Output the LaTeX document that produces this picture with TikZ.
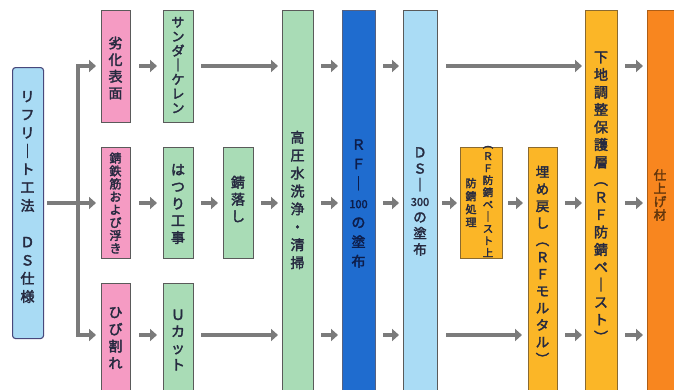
\documentclass[tikz,border=0pt]{standalone}
\usepackage{fontspec}
\usetikzlibrary{arrows.meta}
\newfontfamily\jp{Noto Sans CJK JP}[FakeBold=2.5]
\definecolor{lblue}{HTML}{A9DBF4}
\definecolor{pinkc}{HTML}{F59BC3}
\definecolor{greenc}{HTML}{A9DCB6}
\definecolor{rfblue}{HTML}{1F6CCF}
\definecolor{dsblue}{HTML}{AADCF5}
\definecolor{yelc}{HTML}{FBB627}
\definecolor{orngc}{HTML}{F8861F}
\definecolor{boxline}{HTML}{5A5A5A}
\definecolor{yelline}{HTML}{8A6A30}
\definecolor{arrgray}{HTML}{7B7B7B}
\definecolor{txt}{HTML}{262A40}
\definecolor{navy}{HTML}{0D1D4A}
\begin{document}
\begin{tikzpicture}[x=1pt,y=-1pt,
  box/.style={draw=boxline, line width=1.1pt, inner sep=0pt, anchor=north west},
  ybox/.style={box, draw=yelline, fill=yelc},
  vt/.style={align=center, inner sep=0pt, text=txt},
  arr/.style={draw=arrgray, line width=4.5pt, -{Triangle[length=7pt,width=12pt]}, shorten <=7pt, shorten >=5pt},
]
\clip (0,0) rectangle (674,389);
\fill[white] (0,0) rectangle (674,389);
% rows
\coordinate (rA) at (0,66);
\coordinate (rB) at (0,203);
\coordinate (rC) at (0,335);
\coordinate (j) at (78,0);
% boxes
\node[box, fill=lblue, draw=boxline!80!blue, rounded corners=3pt, minimum width=31pt, minimum height=271pt] (L) at (12,67) {};
\node[box, fill=pinkc, minimum width=29pt, minimum height=112pt] (p1) at (101,10) {};
\node[box, fill=pinkc, minimum width=29pt, minimum height=111pt] (p2) at (101,147) {};
\node[box, fill=pinkc, minimum width=29pt, minimum height=120pt] (p3) at (101,283) {};
\node[box, fill=greenc, minimum width=30pt, minimum height=112pt] (g1) at (163,10) {};
\node[box, fill=greenc, minimum width=30pt, minimum height=111pt] (g2) at (163,147) {};
\node[box, fill=greenc, minimum width=30pt, minimum height=120pt] (g3) at (163,283) {};
\node[box, fill=greenc, minimum width=30pt, minimum height=111pt] (g4) at (223,147) {};
\node[box, fill=greenc, minimum width=31pt, minimum height=400pt] (H) at (282,10) {};
\node[box, fill=rfblue, draw=navy!70, minimum width=33pt, minimum height=400pt] (RF) at (342,10) {};
\node[box, fill=dsblue, minimum width=34pt, minimum height=400pt] (DS) at (403,10) {};
\node[ybox, minimum width=42pt, minimum height=111pt] (Y1) at (460,147) {};
\node[ybox, minimum width=29pt, minimum height=260pt] (Y2) at (528,147) {};
\node[ybox, minimum width=32pt, minimum height=400pt] (Y3) at (585,10) {};
\node[box, fill=orngc, draw=orngc!70!black, minimum width=50pt, minimum height=400pt] (O) at (647,10) {};
% texts
\node[vt, font=\jp\fontsize{14}{18.2}\selectfont] (tL) at (27.5,197) {リ\\フ\\リ\\｜\\ト\\工\\法\\　\\Ｄ\\Ｓ\\仕\\様};
\node[vt, font=\jp\fontsize{14}{16.7}\selectfont] (tp1) at (115.5,68) {劣\\化\\表\\面};
\node[vt, font=\jp\fontsize{12}{12.9}\selectfont] (tp2) at (115.5,203) {錆\\鉄\\筋\\お\\よ\\び\\浮\\き};
\node[vt, font=\jp\fontsize{14}{17}\selectfont] (tp3) at (115.5,338) {ひ\\び\\割\\れ};
\node[vt, font=\jp\fontsize{13}{14.3}\selectfont] (tg1) at (178,65) {サ\\ン\\ダ\\｜\\ケ\\レ\\ン};
\node[vt, font=\jp\fontsize{14}{17}\selectfont] (tg2) at (178,204) {は\\つ\\り\\工\\事};
\node[vt, font=\jp\fontsize{14}{16.7}\selectfont] (tg3) at (178,340) {Ｕ\\カ\\ッ\\ト};
\node[vt, font=\jp\fontsize{14}{17}\selectfont] (tg4) at (238,199) {錆\\落\\し};
\node[vt, font=\jp\fontsize{14}{17.9}\selectfont] (tH) at (297.5,200) {高\\圧\\水\\洗\\浄\\・\\清\\掃};
\node[vt, text=navy, font=\jp\fontsize{14}{19.5}\selectfont] (tRF) at (358.5,203.5) {Ｒ\\Ｆ\\｜\\{\fontsize{11}{11}\selectfont 100}\\の\\塗\\布};
\node[vt, font=\jp\fontsize{13.5}{16.2}\selectfont] (tDS) at (420,201.5) {Ｄ\\Ｓ\\｜\\{\fontsize{11}{11}\selectfont 300}\\の\\塗\\布};
\node[vt, font=\jp\fontsize{10.5}{12.1}\selectfont] (tY1a) at (488,201.5) {︵\\Ｒ\\Ｆ\\防\\錆\\ペ\\｜\\ス\\ト\\上};
\node[vt, font=\jp\fontsize{11}{13}\selectfont] (tY1b) at (471,202.5) {防\\錆\\処\\理};
\node[vt, font=\jp\fontsize{13.5}{17}\selectfont] (tY2) at (542.5,265) {埋\\め\\戻\\し\\︵\\Ｒ\\Ｆ\\モ\\ル\\タ\\ル\\︶};
\node[vt, font=\jp\fontsize{14}{17.5}\selectfont] (tY3) at (601,197) {下\\地\\調\\整\\保\\護\\層\\︵\\Ｒ\\Ｆ\\防\\錆\\ペ\\｜\\ス\\ト\\︶};
\node[vt, text=orngc!40!black, font=\jp\fontsize{12.5}{13.3}\selectfont] (tO) at (660,195) {仕\\上\\げ\\材};
% trunk
\draw[arr, shorten <=3pt] (L.east |- rB) -- (p2.west |- rB);
\draw[arr, shorten <=0pt] (j |- rB) |- (p1.west |- rA);
\draw[arr, shorten <=0pt] (j |- rB) |- (p3.west |- rC);
% row A
\draw[arr, shorten <=8pt, shorten >=6pt] (p1.east |- rA) -- (g1.west |- rA);
\draw[arr, shorten >=4pt] (g1.east |- rA) -- (H.west |- rA);
\draw[arr, shorten >=4pt] (H.east |- rA) -- (RF.west |- rA);
\draw[arr, shorten >=4pt] (RF.east |- rA) -- (DS.west |- rA);
\draw[arr, shorten <=8pt, shorten >=3pt] (DS.east |- rA) -- (Y3.west |- rA);
\draw[arr, shorten >=4pt] (Y3.east |- rA) -- (O.west |- rA);
% row B
\draw[arr, shorten <=8pt, shorten >=6pt] (p2.east |- rB) -- (g2.west |- rB);
\draw[arr, shorten >=5pt] (g2.east |- rB) -- (g4.west |- rB);
\draw[arr, shorten >=4pt] (g4.east |- rB) -- (H.west |- rB);
\draw[arr, shorten >=4pt] (H.east |- rB) -- (RF.west |- rB);
\draw[arr, shorten >=4pt] (RF.east |- rB) -- (DS.west |- rB);
\draw[arr, shorten <=4pt, shorten >=3pt] (DS.east |- rB) -- (Y1.west |- rB);
\draw[arr, shorten <=5pt, shorten >=5pt] (Y1.east |- rB) -- (Y2.west |- rB);
\draw[arr, shorten >=3pt] (Y2.east |- rB) -- (Y3.west |- rB);
\draw[arr, shorten >=4pt] (Y3.east |- rB) -- (O.west |- rB);
% row C
\draw[arr, shorten <=8pt, shorten >=6pt] (p3.east |- rC) -- (g3.west |- rC);
\draw[arr, shorten >=4pt] (g3.east |- rC) -- (H.west |- rC);
\draw[arr, shorten >=4pt] (H.east |- rC) -- (RF.west |- rC);
\draw[arr, shorten >=4pt] (RF.east |- rC) -- (DS.west |- rC);
\draw[arr, shorten <=8pt, shorten >=6pt] (DS.east |- rC) -- (Y2.west |- rC);
\draw[arr, shorten >=3pt] (Y2.east |- rC) -- (Y3.west |- rC);
\draw[arr, shorten >=4pt] (Y3.east |- rC) -- (O.west |- rC);
\end{tikzpicture}
\end{document}
